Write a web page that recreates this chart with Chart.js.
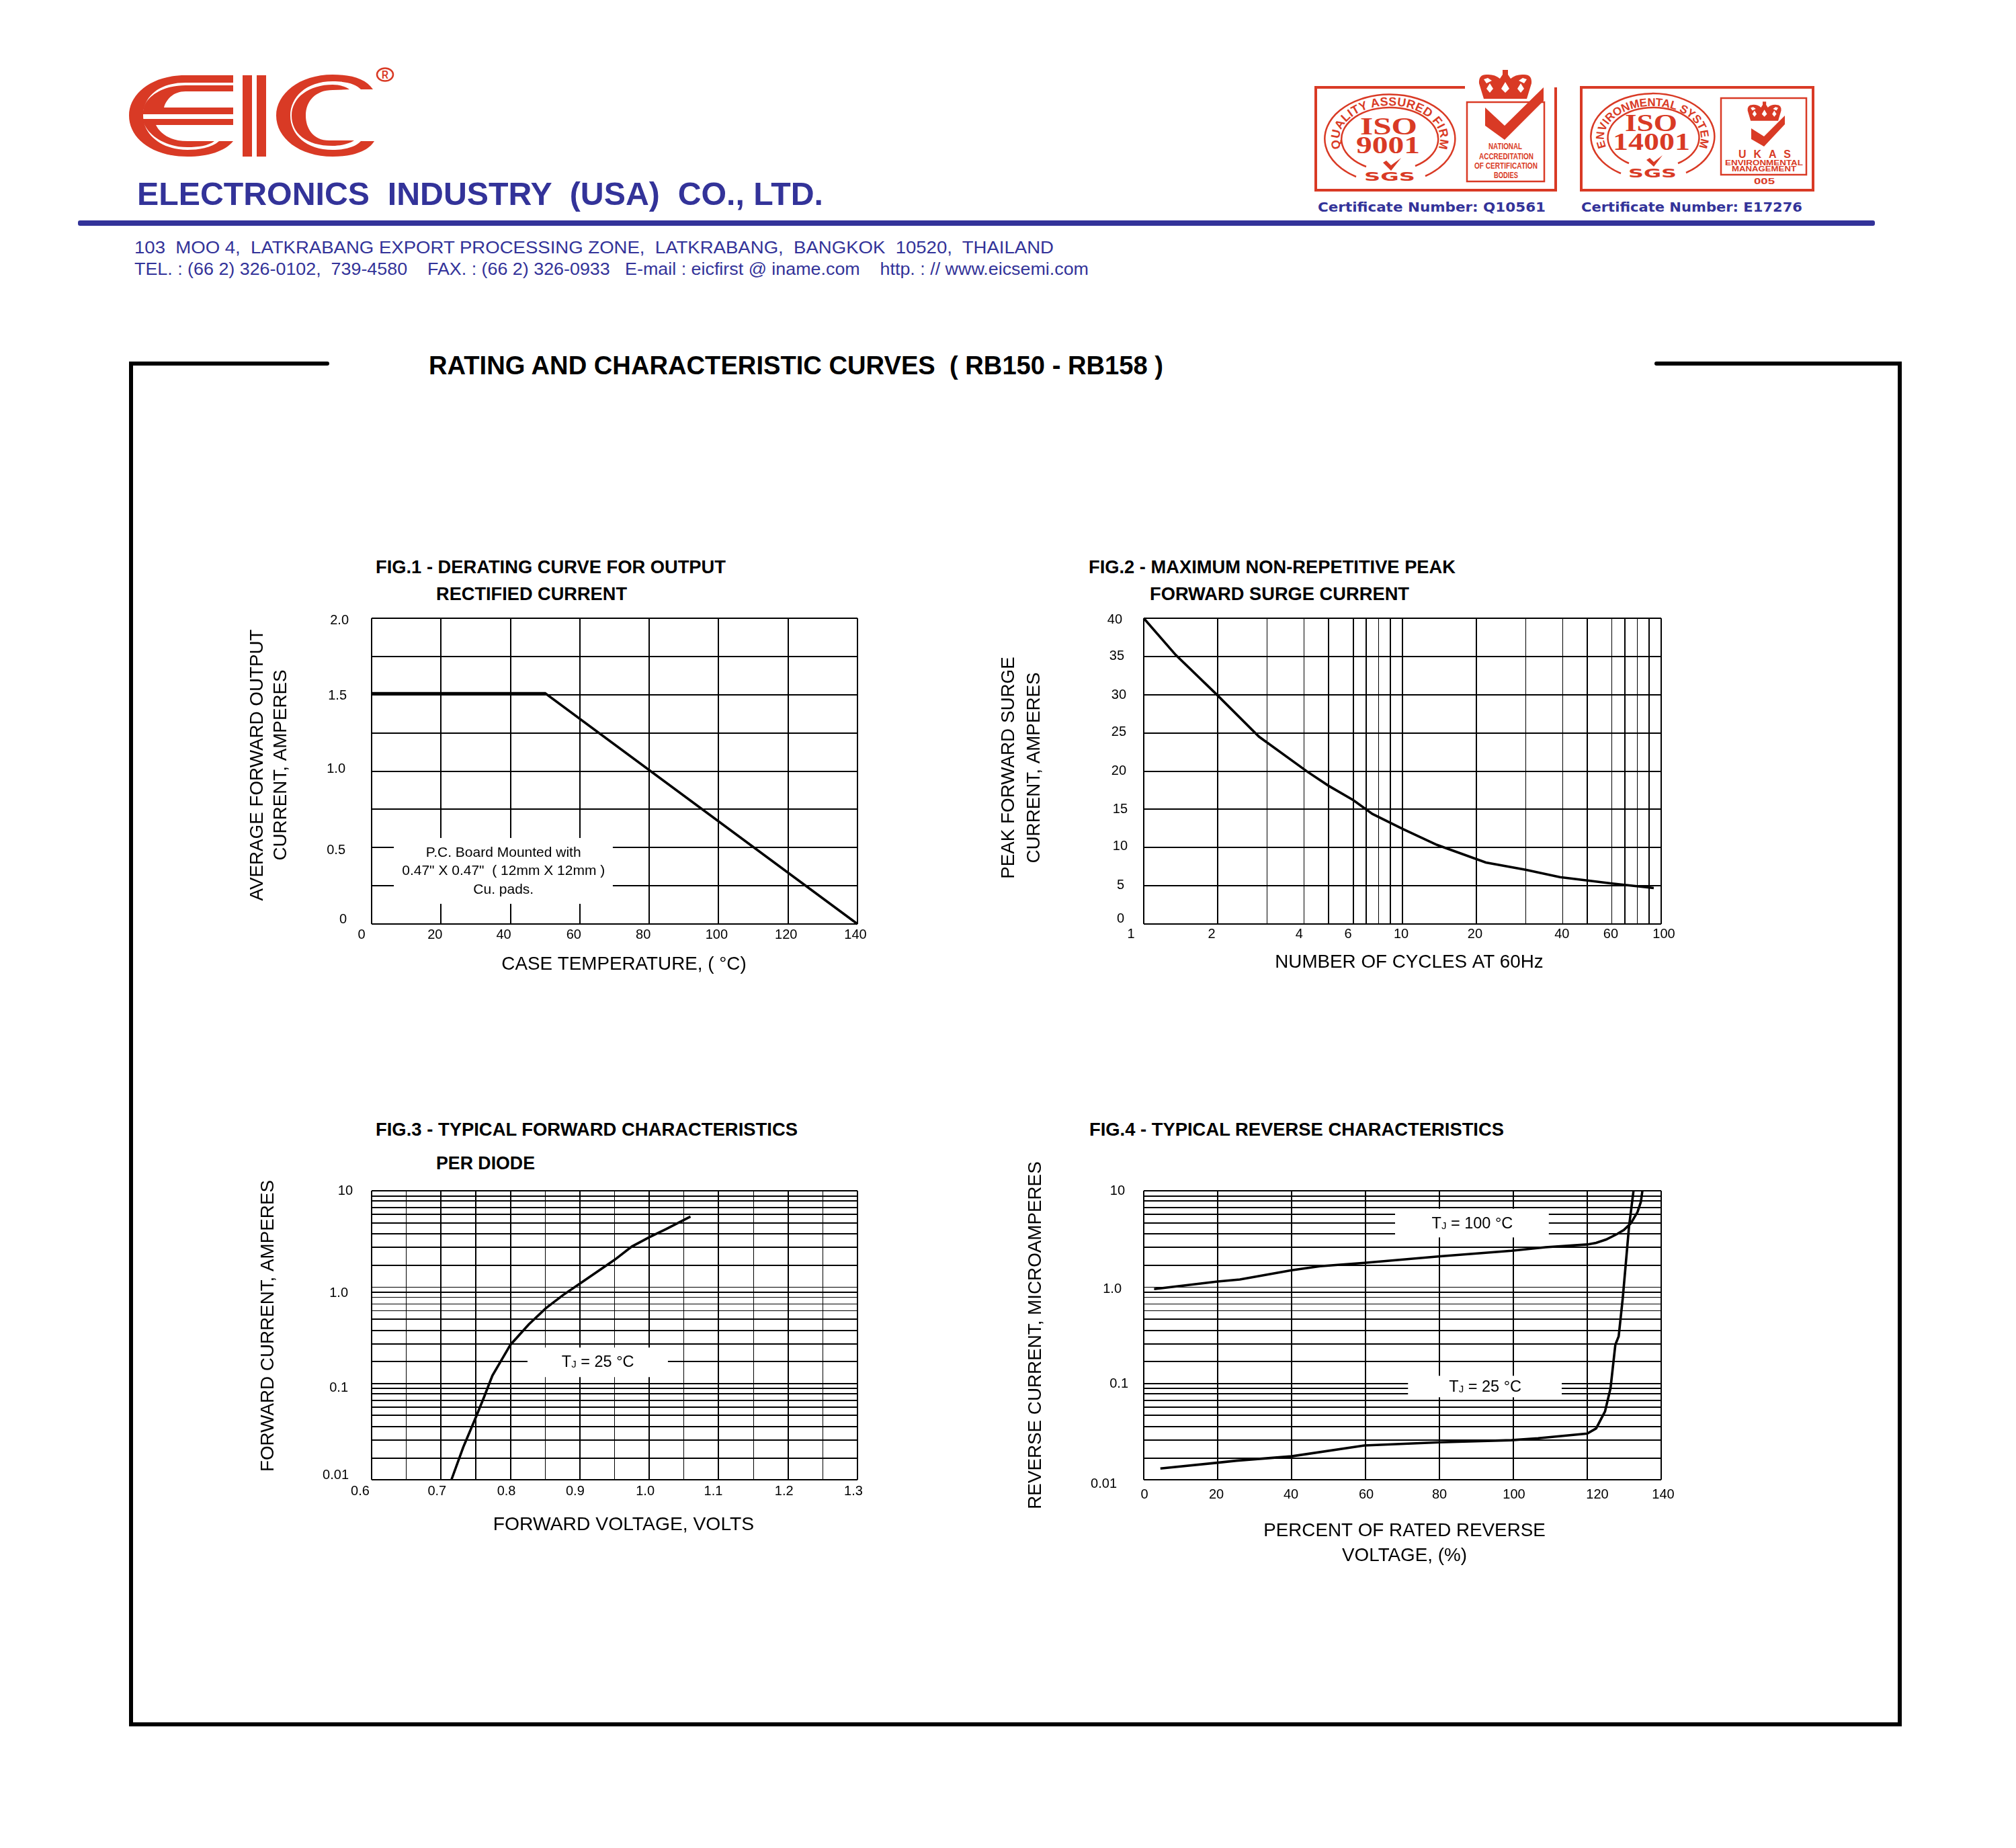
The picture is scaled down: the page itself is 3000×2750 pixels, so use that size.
<!DOCTYPE html>
<html>
<head>
<meta charset="utf-8">
<title>RB150 - RB158 curves</title>
<script src="https://cdn.jsdelivr.net/npm/chart.js@4"></script>
<style>
  html, body { margin: 0; background: #fff; }
  #page { position: relative; width: 3000px; height: 2750px; overflow: hidden; }
  #page svg { position: absolute; left: 0; top: 0; }
  #page canvas { position: absolute; }
  text { font-family: "Liberation Sans", Arial, sans-serif; white-space: pre; }
  .blue { fill: #333399; }
  .red { fill: #D93A25; }
  .ln { fill: none; stroke: #D93A25; }
  .serif { font-family: "Liberation Serif", serif; font-weight: bold; }
  .wide { font-family: "DejaVu Sans", sans-serif; font-weight: bold; }
</style>
</head>
<body>
<div id="page">
<svg width="3000" height="2750" viewBox="0 0 3000 2750" xmlns="http://www.w3.org/2000/svg">
  <defs>
    <g id="crown">
      <path class="red" d="M8,45 L1,22 Q0,9 12,9 Q24,8 32,15 L36,9 L36,2 L44,2 L44,9 L48,15 Q56,8 68,9 Q80,9 79,22 L72,45 Z"/>
      <path fill="#fff" d="M12,30 L17,22 L22,30 L17,36 Z M34,30 L40,20 L46,30 L40,36 Z M58,30 L63,22 L68,30 L63,36 Z M8,16 L14,14 L20,18 L12,22 Z M60,18 L66,14 L72,16 L68,22 Z"/>
    </g>
    <path id="arc1" d="M1998,225 A75,50 0 1 1 2138,225"/>
    <path id="arc2" d="M2392,222 A72,47 0 1 1 2526,222"/>
  </defs>

  <!-- logo -->
  <path class="red" d="M347,112 L276,112 C225,112 192,140 192,172 C192,205 225,233 279,233 C310,233 335,225 347,210 L326,210 C315,220 295,223 279,223 C240,223 213,200 213,172 C213,145 235,123 276,123 L347,123 Z"/>
  <path class="red" d="M347,127 L347,136 L276,136 C258,136 247,148 244,160 L347,160 L347,170 L212,170 L214,160 C218,145 240,127 276,127 Z"/>
  <path class="red" d="M212,177 L347,177 L347,186 L232,186 C238,198 252,210 279,210 L319,210 C310,217 295,219 279,219 C245,219 217,200 212,177 Z"/>
  <rect class="red" x="361" y="112" width="14" height="121"/>
  <rect class="red" x="382" y="112" width="14" height="121"/>
  <path class="red" d="M555,133 C545,118 525,111 495,111 C445,111 411,140 411,172 C411,205 445,233 495,233 C525,233 548,225 557,210 L537,210 C528,220 510,223 495,223 C455,223 432,200 432,172 C432,145 455,121 495,121 C515,121 530,125 537,133 Z"/>
  <path class="red" d="M520,133 C515,129 505,126 495,126 C460,126 434,145 434,172 C434,198 455,217 495,217 C505,217 518,215 527,209 L490,209 C465,209 455,190 455,172 C455,150 470,134 495,134 Z"/>
  <ellipse class="ln" cx="573" cy="111" rx="12" ry="9.5" stroke-width="2.5"/>
  <text class="red" x="568" y="117" font-size="16" font-weight="bold" textLength="10" lengthAdjust="spacingAndGlyphs">R</text>

  <!-- company header -->
  <text class="blue" x="204" y="305" font-size="49" font-weight="bold" textLength="1021" lengthAdjust="spacingAndGlyphs">ELECTRONICS  INDUSTRY  (USA)  CO., LTD.</text>
  <rect x="116" y="328" width="2674" height="8" rx="3" fill="#333399"/>
  <text class="blue" x="200" y="377" font-size="26.5" textLength="1368" lengthAdjust="spacingAndGlyphs">103  MOO 4,  LATKRABANG EXPORT PROCESSING ZONE,  LATKRABANG,  BANGKOK  10520,  THAILAND</text>
  <text class="blue" x="200" y="409" font-size="26.5" textLength="1420" lengthAdjust="spacingAndGlyphs">TEL. : (66 2) 326-0102,  739-4580    FAX. : (66 2) 326-0933   E-mail : eicfirst @ iname.com    http. : // www.eicsemi.com</text>

  <!-- iso 9001 badge -->
  <path class="ln" stroke-width="4" d="M2180,130 L1958,130 L1958,283 L2315,283 L2315,130"/>
  <path class="ln" stroke-width="2.5" d="M2018,263 A97,66 0 1 1 2121,262"/>
  <path class="ln" stroke-width="2.5" d="M2033,248 A72,47 0 1 1 2106,247"/>
  <text class="red" font-size="18" font-weight="bold"><textPath href="#arc1" startOffset="50%" text-anchor="middle" textLength="226">QUALITY ASSURED FIRM</textPath></text>
  <text class="red serif" x="2024" y="200" font-size="36" textLength="85" lengthAdjust="spacingAndGlyphs">ISO</text>
  <text class="red serif" x="2018" y="228" font-size="36" textLength="95" lengthAdjust="spacingAndGlyphs">9001</text>
  <path class="red" d="M2058,242 L2063,239 L2070,246 L2085,235 L2070,254 Z"/>
  <text class="red wide" x="2030" y="269" font-size="17" textLength="76" lengthAdjust="spacingAndGlyphs">SGS</text>
  <use href="#crown" transform="translate(2200,102)"/>
  <rect class="ln" x="2183" y="152" width="115" height="118" stroke-width="2.5"/>
  <path class="red" d="M2210,160 L2239,187 L2297,130 L2297,150 L2239,208 L2210,187 Z"/>
  <text class="red" x="2215" y="222" font-size="13" font-weight="bold" textLength="50" lengthAdjust="spacingAndGlyphs">NATIONAL</text>
  <text class="red" x="2201" y="237" font-size="13" font-weight="bold" textLength="81" lengthAdjust="spacingAndGlyphs">ACCREDITATION</text>
  <text class="red" x="2194" y="251" font-size="13" font-weight="bold" textLength="94" lengthAdjust="spacingAndGlyphs">OF CERTIFICATION</text>
  <text class="red" x="2223" y="265" font-size="13" font-weight="bold" textLength="36" lengthAdjust="spacingAndGlyphs">BODIES</text>
  <text class="blue wide" x="1961" y="315" font-size="20" textLength="339" lengthAdjust="spacingAndGlyphs">Certificate Number: Q10561</text>

  <!-- iso 14001 badge -->
  <rect class="ln" x="2353" y="130" width="345" height="153" stroke-width="4"/>
  <path class="ln" stroke-width="2.5" d="M2412,258 A92,64 0 1 1 2509,257"/>
  <path class="ln" stroke-width="2.5" d="M2424,243 A68,45 0 1 1 2497,243"/>
  <text class="red" font-size="17" font-weight="bold"><textPath href="#arc2" startOffset="50%" text-anchor="middle" textLength="218">ENVIRONMENTAL SYSTEM</textPath></text>
  <text class="red serif" x="2418" y="195" font-size="36" textLength="78" lengthAdjust="spacingAndGlyphs">ISO</text>
  <text class="red serif" x="2400" y="223" font-size="36" textLength="115" lengthAdjust="spacingAndGlyphs">14001</text>
  <path class="red" d="M2450,238 L2455,235 L2461,241 L2474,231 L2461,248 Z"/>
  <text class="red wide" x="2423" y="264" font-size="17" textLength="72" lengthAdjust="spacingAndGlyphs">SGS</text>
  <rect class="ln" x="2561" y="146" width="127" height="114" stroke-width="2.5"/>
  <use href="#crown" transform="translate(2600,150) scale(0.64,0.66)"/>
  <path class="red" d="M2606,191 L2625,203 L2656,172 L2656,185 L2625,218 L2606,207 Z"/>
  <text class="red" x="2587" y="235" font-size="16" font-weight="bold" textLength="78">UKAS</text>
  <text class="red" x="2567" y="246" font-size="11" font-weight="bold" textLength="116" lengthAdjust="spacingAndGlyphs">ENVIRONMENTAL</text>
  <text class="red" x="2577" y="255" font-size="11" font-weight="bold" textLength="96" lengthAdjust="spacingAndGlyphs">MANAGEMENT</text>
  <text class="red" x="2610" y="274" font-size="13" font-weight="bold" textLength="31" lengthAdjust="spacingAndGlyphs">005</text>
  <text class="blue wide" x="2353" y="315" font-size="20" textLength="329" lengthAdjust="spacingAndGlyphs">Certificate Number: E17276</text>

  <!-- frame and headings -->
  <path d="M487,541 L195,541 L195,2566 L2827,2566 L2827,541 L2465,541" fill="none" stroke="#000" stroke-width="6" stroke-linecap="round"/>
  <text x="638" y="557" font-size="38" font-weight="bold" textLength="1093" lengthAdjust="spacingAndGlyphs">RATING AND CHARACTERISTIC CURVES  ( RB150 - RB158 )</text>

  <text x="559" y="853" font-size="27" font-weight="bold" textLength="521" lengthAdjust="spacingAndGlyphs">FIG.1 - DERATING CURVE FOR OUTPUT</text>
  <text x="649" y="893" font-size="27" font-weight="bold" textLength="284" lengthAdjust="spacingAndGlyphs">RECTIFIED CURRENT</text>
  <text x="1620" y="853" font-size="27" font-weight="bold" textLength="546" lengthAdjust="spacingAndGlyphs">FIG.2 - MAXIMUM NON-REPETITIVE PEAK</text>
  <text x="1711" y="893" font-size="27" font-weight="bold" textLength="386" lengthAdjust="spacingAndGlyphs">FORWARD SURGE CURRENT</text>
  <text x="559" y="1690" font-size="27" font-weight="bold" textLength="628" lengthAdjust="spacingAndGlyphs">FIG.3 - TYPICAL FORWARD CHARACTERISTICS</text>
  <text x="649" y="1740" font-size="27" font-weight="bold" textLength="147" lengthAdjust="spacingAndGlyphs">PER DIODE</text>
  <text x="1621" y="1690" font-size="27" font-weight="bold" textLength="617" lengthAdjust="spacingAndGlyphs">FIG.4 - TYPICAL REVERSE CHARACTERISTICS</text>
</svg>
<canvas id="fig1" width="1000" height="580" style="left:340px;top:890px"></canvas>
<canvas id="fig2" width="1080" height="580" style="left:1460px;top:890px"></canvas>
<canvas id="fig3" width="1000" height="650" style="left:340px;top:1700px"></canvas>
<canvas id="fig4" width="1080" height="690" style="left:1460px;top:1700px"></canvas>
</div>

<script>
// values

// fig 1
const fig1Temp = [0, 50, 140];
const fig1Amps = [1.51, 1.51, 0];
const fig1XTicks = [0, 20, 40, 60, 80, 100, 120, 140];
const fig1XLabels = ['0', '20', '40', '60', '80', '100', '120', '140'];
const fig1YTicks = [0, 0.25, 0.5, 0.75, 1, 1.25, 1.5, 1.75, 2];
const fig1YLabels = ['0', '', '0.5', '', '1.0', '', '1.5', '', '2.0'];

// fig 2
const fig2Cycles = [1, 1.329, 1.93, 2.79, 4.3, 5.17, 6.46, 7.65, 10, 13.6, 21, 29.9, 40.6, 64.6, 93.6];
const fig2Amps = [40, 35.2, 29.9, 24.5, 19.9, 18.1, 16.2, 14.4, 12.45, 10.35, 8.05, 7.09, 6.13, 5.29, 4.71];
// the printed log grid is hand drawn, so the lines sit a bit off true 2,3,4...
const fig2XTicks = [1, 1.93, 2.99, 4.16, 5.17, 6.46, 7.22, 8.07, 8.98, 10, 19.3, 29.9, 41.6, 51.7, 64.6, 72.2, 80.7, 89.8, 100];
const fig2XLabels = ['1', '2', '', '4', '', '6', '', '', '', '10', '20', '', '40', '', '60', '', '', '', '100'];
const fig2YTicks = [0, 5, 10, 15, 20, 25, 30, 35, 40];
const fig2YLabels = ['0', '5', '10', '15', '20', '25', '30', '35', '40'];

// fig 3
const fig3Volts = [0.715, 0.732, 0.7506, 0.7617, 0.774, 0.7864, 0.8, 0.8265, 0.8512, 0.8759, 0.9006, 0.9253, 0.95, 0.9747, 1.0, 1.024, 1.0594];
const fig3Amps = [0.01, 0.02176, 0.0453, 0.0713, 0.1206, 0.1712, 0.2518, 0.4108, 0.6043, 0.8278, 1.095, 1.45, 1.917, 2.63, 3.29, 4.0, 5.4];
const fig3XTicks = [0.6, 0.65, 0.7, 0.75, 0.8, 0.85, 0.9, 0.95, 1.0, 1.05, 1.1, 1.15, 1.2, 1.25, 1.3];
const fig3XLabels = ['0.6', '', '0.7', '', '0.8', '', '0.9', '', '1.0', '', '1.1', '', '1.2', '', '1.3'];

// same printed log paper on fig 3 and fig 4
const logPaperTicks = [10, 8.79, 7.86, 6.69, 5.7, 4.62, 3.58, 2.59, 1.68, 1, 0.884, 0.786, 0.67, 0.57, 0.465, 0.352, 0.2566, 0.169,
  0.1, 0.0889, 0.0778, 0.0662, 0.0564, 0.0467, 0.0356, 0.0258, 0.0167, 0.01];
const logPaperLabels = ['10', '', '', '', '', '', '', '', '', '1.0', '', '', '', '', '', '', '', '',
  '0.1', '', '', '', '', '', '', '', '', '0.01'];

// fig 4
const fig4Pct100 = [2.8, 20, 26, 40, 47.7, 59.7, 80.2, 99.5, 108.7, 114.7, 120, 122.4, 125.1, 128.1, 129.9, 131.8, 133.6, 134.5, 134.9];
const fig4Cur100 = [0.953, 1.143, 1.198, 1.495, 1.647, 1.787, 2.09, 2.385, 2.594, 2.69, 2.77, 2.88, 3.12, 3.56, 3.92, 4.6, 6.02, 7.66, 9.9];
const fig4Pct25 = [4.5, 20, 25.1, 40, 59.7, 80.2, 99.5, 106.7, 120, 122.4, 124.8, 126.3, 127.6, 128.5, 129.6, 130.4, 131.3, 132.5];
const fig4Cur25 = [0.01307, 0.01503, 0.01578, 0.01751, 0.02268, 0.02446, 0.02576, 0.02694, 0.03015, 0.0341, 0.0512, 0.0895, 0.2526, 0.308, 0.765, 1.708, 4.25, 9.9];
const fig4XTicks = [0, 20, 40, 60, 80, 100, 120, 140];
const fig4XLabels = ['0', '20', '40', '60', '80', '100', '120', '140'];

const FONT = '"Liberation Sans", Arial, sans-serif';

function points(xs, ys) {
  return xs.map((x, i) => ({ x, y: ys[i] }));
}

function shiftTitle(scale, shift) {
  if (!shift) return;
  const draw = scale.drawTitle;
  scale.drawTitle = function () {
    const ctx = this.ctx;
    ctx.save();
    ctx.translate(shift[0], shift[1]);
    draw.call(this);
    ctx.restore();
  };
}

// tick labels on the original are placed by hand, not centred on their lines
function shiftLabels(scale, shifts) {
  if (!shifts) return;
  scale.getLabelItems(scale.chart.chartArea).forEach(item => {
    const s = shifts[item.label];
    if (s && !item.moved) {
      item.options.translation[0] += s[0];
      item.options.translation[1] += s[1];
      item.moved = true;
    }
  });
}

function drawNote(chart, note) {
  const { ctx, scales: { x, y } } = chart;
  const x0 = x.getPixelForValue(note.box[0]), x1 = x.getPixelForValue(note.box[1]);
  const y0 = y.getPixelForValue(note.box[2]), y1 = y.getPixelForValue(note.box[3]);
  ctx.save();
  ctx.fillStyle = '#fff';
  ctx.fillRect(x0, y0, x1 - x0, y1 - y0);
  ctx.fillStyle = '#000';
  ctx.textBaseline = 'middle';
  note.lines.forEach(line => {
    const px = x.getPixelForValue(line.x), py = y.getPixelForValue(line.y);
    if (line.tj) {
      // T with the small J subscript
      ctx.font = '23.5px ' + FONT;
      const w1 = ctx.measureText('T').width, w3 = ctx.measureText(line.tj).width;
      ctx.font = '15px ' + FONT;
      const w2 = ctx.measureText('J').width;
      const cx = px - (w1 + w2 + w3) / 2;
      ctx.textAlign = 'left';
      ctx.font = '23.5px ' + FONT;
      ctx.fillText('T', cx, py);
      ctx.font = '15px ' + FONT;
      ctx.fillText('J', cx + w1, py + 4);
      ctx.font = '23.5px ' + FONT;
      ctx.fillText(line.tj, cx + w1 + w2, py);
    } else {
      ctx.font = '21px ' + FONT;
      ctx.textAlign = 'center';
      ctx.fillText(line.text, px, py);
    }
  });
  ctx.restore();
}

function axisOptions(ax, axisSize, isX) {
  return {
    type: ax.type,
    min: ax.min,
    max: ax.max,
    afterBuildTicks(scale) { scale.ticks = ax.ticks.map(value => ({ value })); },
    afterFit(scale) {
      if (isX) scale.height = axisSize; else scale.width = axisSize;
      // tick padding would otherwise push the plot area in
      scale.paddingTop = scale.paddingBottom = scale.paddingLeft = scale.paddingRight = 0;
    },
    ticks: {
      autoSkip: false,
      maxRotation: 0,
      minRotation: 0,
      color: '#000',
      padding: ax.tickPad,
      font: { family: FONT, size: 20 },
      callback(value, i) { return ax.labels[i]; }
    },
    grid: {
      color: '#000',
      drawTicks: false,
      lineWidth(ctx) {
        return ctx.tick && ax.thin && ax.thin.includes(ctx.tick.value) ? 1 : 2;
      }
    },
    border: { display: false },
    title: {
      display: true,
      text: ax.title,
      color: '#000',
      padding: ax.titlePad,
      font: { family: FONT, size: ax.titleSize || 27.8, lineHeight: ax.titleLine }
    }
  };
}

function makeFigure(id, fig) {
  new Chart(document.getElementById(id), {
    type: 'line',
    data: {
      datasets: fig.series.map(s => ({
        data: s,
        borderColor: '#000',
        borderWidth: 3.6,
        pointRadius: 0,
        tension: 0,
        clip: false
      }))
    },
    options: {
      responsive: false,
      animation: false,
      devicePixelRatio: 1,
      parsing: false,
      layout: { padding: { left: 0, bottom: 0, top: fig.padTop, right: fig.padRight } },
      plugins: { legend: { display: false }, tooltip: { enabled: false } },
      scales: {
        x: axisOptions(fig.x, fig.bottomAxis, true),
        y: axisOptions(fig.y, fig.leftAxis, false)
      }
    },
    plugins: [{
      id: 'figureExtras',
      beforeDraw(chart) {
        ['x', 'y'].forEach(k => {
          const scale = chart.scales[k];
          shiftLabels(scale, fig[k].labelShift);
          if (!scale.titleShifted) {
            shiftTitle(scale, fig[k].titleShift);
            scale.titleShifted = true;
          }
        });
      },
      beforeDatasetsDraw(chart) {
        (fig.notes || []).forEach(note => drawNote(chart, note));
      }
    }]
  });
}

makeFigure('fig1', {
  padTop: 30, padRight: 64, leftAxis: 213, bottomAxis: 95,
  series: [points(fig1Temp, fig1Amps)],
  x: {
    type: 'linear', min: 0, max: 140, ticks: fig1XTicks, labels: fig1XLabels, tickPad: 4,
    title: 'CASE TEMPERATURE, ( °C)', titleLine: '35px', titlePad: { top: 0, bottom: 17.5 },
    titleShift: [14, 0],
    labelShift: { '0': [-15, 0], '20': [-9, 0], '40': [-10, 0], '60': [-9, 0], '80': [-9, 0], '100': [-3, 0], '120': [-3, 0], '140': [-3, 0] }
  },
  y: {
    type: 'linear', min: 0, max: 2, ticks: fig1YTicks, labels: fig1YLabels, tickPad: 37,
    title: ['AVERAGE FORWARD OUTPUT', 'CURRENT, AMPERES'], titleLine: '35px', titlePad: { top: 25.5, bottom: 0 },
    titleShift: [0, -9],
    labelShift: { '2.0': [3, 3.5], '1.5': [0, 2], '1.0': [-2, -3], '0.5': [-2, 4], '0': [0, -6.5] }
  },
  notes: [{
    box: [6.4, 69.5, 0.5626, 0.132],
    lines: [
      { text: 'P.C. Board Mounted with', x: 38, y: 0.466 },
      { text: '0.47" X 0.47"  ( 12mm X 12mm )', x: 38, y: 0.347 },
      { text: 'Cu. pads.', x: 38, y: 0.224 }
    ]
  }]
});

makeFigure('fig2', {
  padTop: 30, padRight: 68, leftAxis: 242, bottomAxis: 95,
  series: [points(fig2Cycles, fig2Amps)],
  x: {
    type: 'logarithmic', min: 1, max: 100, ticks: fig2XTicks, labels: fig2XLabels, tickPad: 3,
    thin: [2.99, 4.16, 8.07, 29.9, 41.6, 64.6, 80.7],
    title: 'NUMBER OF CYCLES AT 60Hz', titleLine: '35px', titlePad: { top: 0, bottom: 20.5 },
    titleShift: [10, 0],
    labelShift: { '1': [-19, 0], '2': [-9, 0], '4': [-7, 0], '6': [-8, 0], '10': [-2, 0], '20': [-2, 0], '40': [-1, 0], '60': [-2, 0], '100': [4, 0] }
  },
  y: {
    type: 'linear', min: 0, max: 40, ticks: fig2YTicks, labels: fig2YLabels, tickPad: 30,
    title: ['PEAK FORWARD SURGE', 'CURRENT, AMPERES'], titleLine: '38px', titlePad: { top: 22, bottom: 0 },
    titleShift: [0, -5],
    labelShift: { '40': [-2, 2], '35': [1, 0], '30': [4, 1], '25': [4, -1], '20': [4, 0], '15': [6, 0], '10': [6, -2], '5': [1, -1], '0': [1, -8] }
  }
});

makeFigure('fig3', {
  padTop: 72, padRight: 64, leftAxis: 213, bottomAxis: 148,
  series: [points(fig3Volts, fig3Amps)],
  x: {
    type: 'linear', min: 0.6, max: 1.3, ticks: fig3XTicks, labels: fig3XLabels, tickPad: 5,
    thin: [0.65, 0.85, 0.95, 1.05, 1.15, 1.25],
    title: 'FORWARD VOLTAGE, VOLTS', titleSize: 28.3, titleLine: '35px', titlePad: { top: 0, bottom: 63.5 },
    titleShift: [13.5, 0],
    labelShift: { '0.6': [-17, 0], '0.7': [-6, 0], '0.8': [-6, 0], '0.9': [-7, 0], '1.0': [-6, 0], '1.1': [-8, 0], '1.2': [-6, 0], '1.3': [-6, 0] }
  },
  y: {
    type: 'logarithmic', min: 0.01, max: 10, ticks: logPaperTicks, labels: logPaperLabels, tickPad: 35,
    thin: [1, 0.786, 0.67, 0.57],
    title: 'FORWARD CURRENT, AMPERES', titleLine: '35px', titlePad: { top: 41.5, bottom: 0 },
    titleShift: [0, -14],
    labelShift: { '10': [7, 0], '1.0': [0, 9], '0.1': [0, 7], '0.01': [1, -7] }
  },
  notes: [{
    box: [0.8246, 1.0269, 0.2357, 0.1163],
    lines: [{ tj: ' = 25 °C', x: 0.926, y: 0.1656 }]
  }]
});

makeFigure('fig4', {
  padTop: 72, padRight: 68, leftAxis: 242, bottomAxis: 188,
  series: [points(fig4Pct100, fig4Cur100), points(fig4Pct25, fig4Cur25)],
  x: {
    type: 'linear', min: 0, max: 140, ticks: fig4XTicks, labels: fig4XLabels, tickPad: 10,
    title: ['PERCENT OF RATED REVERSE', 'VOLTAGE, (%)'], titleLine: '37px', titlePad: { top: 0, bottom: 56.5 },
    titleShift: [3, 0],
    labelShift: { '0': [1, 0], '20': [-2, 0], '40': [-1, 0], '60': [1, 0], '100': [1, 0], '120': [15, 0], '140': [3, 0] }
  },
  y: {
    type: 'logarithmic', min: 0.01, max: 10, ticks: logPaperTicks, labels: logPaperLabels, tickPad: 30,
    thin: [1, 0.786, 0.67, 0.57],
    title: 'REVERSE CURRENT, MICROAMPERES', titleLine: '35px', titlePad: { top: 63.5, bottom: 0 },
    labelShift: { '10': [2, 0], '1.0': [-3, 3], '0.1': [7, 1], '0.01': [-10, 6] }
  },
  notes: [
    { box: [68, 109.6, 6.5, 3.28], lines: [{ tj: ' = 100 °C', x: 88.9, y: 4.53 }] },
    { box: [71.5, 113.1, 0.12, 0.0718], lines: [{ tj: ' = 25 °C', x: 92.4, y: 0.0914 }] }
  ]
});
</script>
</body>
</html>
